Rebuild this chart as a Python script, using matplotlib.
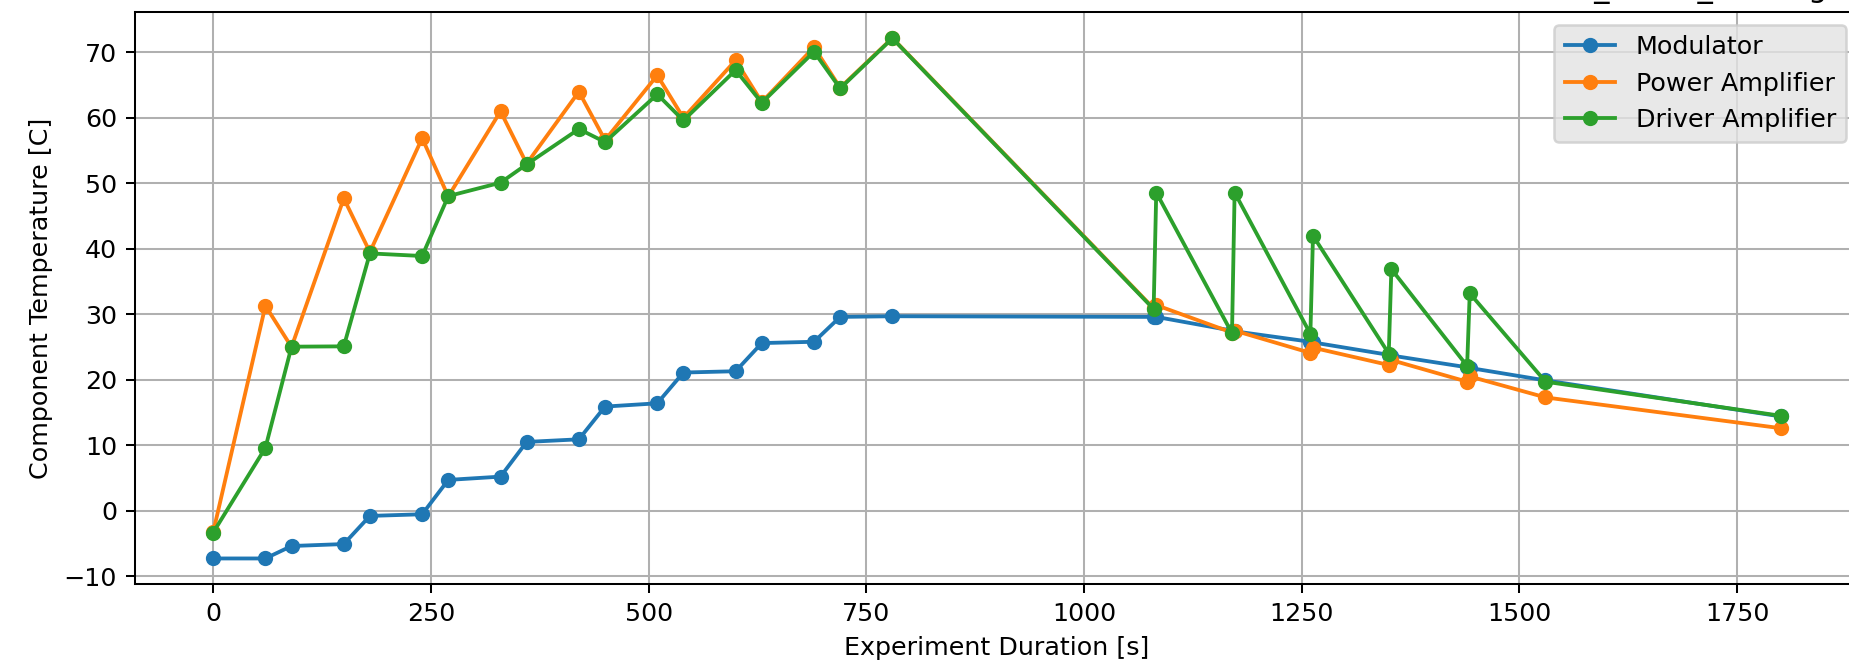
"""Component temperature over the experiment run."""
import matplotlib

matplotlib.use("Agg")
import matplotlib.pyplot as plt

FIG_DPI = 183
FIG_W_PX, FIG_H_PX = 1849, 666

# shared sample times [s]
time_s = [0, 60, 90, 150, 180, 240, 270, 330, 360, 420, 450, 510, 540, 600,
          630, 690, 720, 780, 1080, 1083, 1170, 1173, 1260, 1263, 1350, 1353,
          1440, 1443, 1530, 1800]

modulator = [-7.3, -7.3, -5.4, -5.1, -0.8, -0.55, 4.7, 5.2, 10.5, 10.9, 15.9,
             16.4, 21.1, 21.3, 25.6, 25.8, 29.6, 29.7, 29.6, 29.6, 27.5, 27.4,
             25.8, 25.7, 23.8, 23.7, 21.9, 21.8, 19.9, 14.4]

power_amp = [-3.3, 31.3, 25.0, 47.7, 39.5, 56.9, 48.0, 61.0, 53.0, 64.0, 56.6,
             66.5, 60.0, 68.8, 62.4, 70.8, 64.6, 72.2, 30.9, 31.4, 27.2, 27.5,
             24.1, 24.9, 22.25, 23.0, 19.7, 20.5, 17.3, 12.6]

driver_amp = [-3.35, 9.6, 25.05, 25.1, 39.3, 38.9, 48.05, 50.1, 52.9, 58.3,
              56.3, 63.6, 59.6, 67.3, 62.3, 70.1, 64.5, 72.15, 30.8, 48.6,
              27.1, 48.6, 27.0, 42.0, 24.0, 36.9, 22.1, 33.2, 19.7, 14.5]

series = [
    ("Modulator", modulator),
    ("Power Amplifier", power_amp),
    ("Driver Amplifier", driver_amp),
]

fig = plt.figure(figsize=(FIG_W_PX / FIG_DPI, FIG_H_PX / FIG_DPI), dpi=FIG_DPI)
# the axes runs a little past the right edge, as in the cropped original
ax = fig.add_axes([0.0729, 0.1224, 0.9325, 0.8596])

for label, values in series:
    ax.plot(time_s, values, marker="o", markersize=5, label=label)

# only the descenders of this title survive the crop at the top edge
ax.set_title("transmitter_board_overnight", loc="right")
ax.set_xlabel("Experiment Duration [s]")
ax.set_ylabel("Component Temperature [C]")
ax.grid(True)
ax.legend(loc="upper right", facecolor="#e3e3e3")

fig.savefig("out.png", dpi=FIG_DPI)
